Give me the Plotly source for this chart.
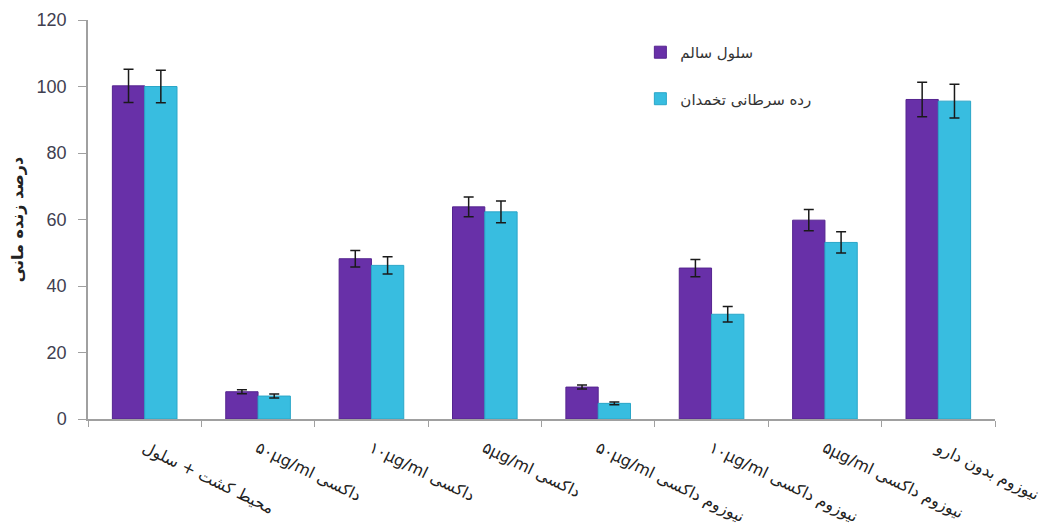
import plotly.graph_objects as go

categories = [
    "محیط کشت + سلول",
    "۵۰µg/ml داکسی",
    "۱۰µg/ml داکسی",
    "۵µg/ml داکسی",
    "۵۰µg/ml نیوزوم داکسی",
    "۱۰µg/ml نیوزوم داکسی",
    "۵µg/ml نیوزوم داکسی",
    "نیوزوم بدون دارو",
]
series_names = ["سلول سالم", "رده سرطانی تخمدان"]
healthy = [100.2, 8.2, 48.2, 63.8, 9.6, 45.4, 59.8, 96.1]
healthy_err = [5.0, 0.6, 2.5, 3.0, 0.6, 2.6, 3.2, 5.2]
cancer = [100.0, 6.9, 46.2, 62.3, 4.7, 31.5, 53.1, 95.6]
cancer_err = [4.9, 0.6, 2.6, 3.3, 0.4, 2.3, 3.2, 5.1]
y_ticks = [0, 20, 40, 60, 80, 100, 120]
y_title = "درصد زنده مانی"

font_fa = "DejaVu Sans, Noto Sans, sans-serif"

fig = go.Figure()
fig.add_trace(go.Bar(
    x=categories, y=healthy, name=series_names[0], legendgroup="a",
    marker=dict(color="#6830a8", line=dict(color="#55248f", width=1)),
    error_y=dict(type="data", array=healthy_err, color="#1a1a1a", thickness=1.5, width=5),
))
fig.add_trace(go.Bar(
    x=categories, y=cancer, name=series_names[1], legendgroup="b",
    marker=dict(color="#38bde0", line=dict(color="#2aa6c8", width=1)),
    error_y=dict(type="data", array=cancer_err, color="#1a1a1a", thickness=1.5, width=5),
))

# page body has an 8px default margin, so the figure is offset by 8px
fig.update_layout(
    width=1047, height=524,
    margin=dict(l=80, r=60, t=12, b=113),
    plot_bgcolor="white", paper_bgcolor="white",
    barmode="group", bargap=0.43, bargroupgap=0,
    font=dict(family=font_fa, color="#333333"),
    legend=dict(
        x=0.609, y=0.96, xanchor="left", yanchor="top",
        font=dict(size=15, color="#333333", family=font_fa),
        traceorder="grouped", tracegroupgap=24,
        bgcolor="rgba(0,0,0,0)", itemwidth=30,
    ),
    showlegend=True,
)
fig.update_xaxes(
    type="category", showline=True, linecolor="#a0a0a0", linewidth=1.5,
    ticks="outside", tickson="boundaries", ticklen=6, tickcolor="#a0a0a0",
    ticklabelstandoff=12,
    tickangle=26, tickfont=dict(size=16, color="#222222", family=font_fa),
    showgrid=False, automargin=False,
)
fig.update_yaxes(
    range=[0, 120], tickvals=y_ticks, showline=True, linecolor="#a0a0a0", linewidth=1.5,
    ticks="outside", ticklen=8, tickcolor="#a0a0a0", ticklabelstandoff=8,
    tickfont=dict(size=18, color="#404050", family="Liberation Sans, Arial, sans-serif"),
    showgrid=False, zeroline=False, automargin=False,
    title=dict(text="<b>" + y_title + "</b>", font=dict(size=16, color="#222222", family=font_fa), standoff=10),
)

fig.write_html("out.html")
